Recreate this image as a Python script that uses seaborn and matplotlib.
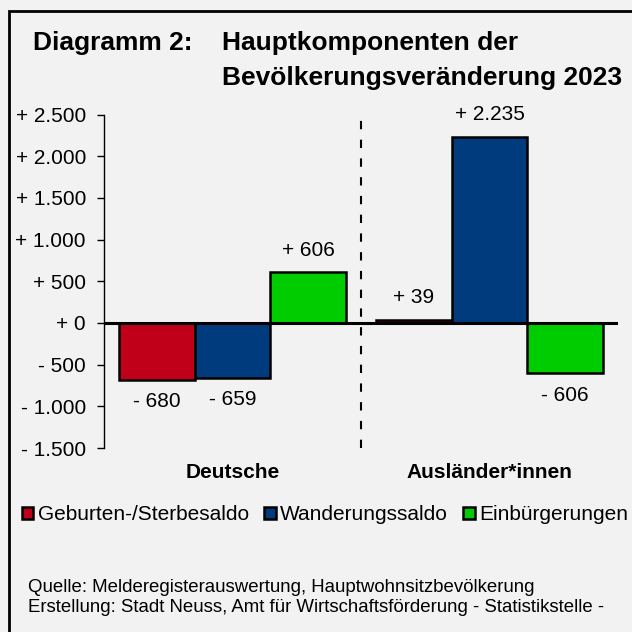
import pandas as pd
import matplotlib.pyplot as plt
import seaborn as sns
from matplotlib.patches import Rectangle

# Daten
gruppen = ["Deutsche", "Ausländer*innen"]
komponenten = ["Geburten-/Sterbesaldo", "Wanderungssaldo", "Einbürgerungen"]
deutsche = [-680, -659, 606]
auslaender = [39, 2235, -606]
farben = ["#C00018", "#003B7D", "#00CC00"]
y_ticks = [-1500, -1000, -500, 0, 500, 1000, 1500, 2000, 2500]

df = pd.DataFrame({
    "Gruppe": [gruppen[0]] * 3 + [gruppen[1]] * 3,
    "Komponente": komponenten * 2,
    "Wert": deutsche + auslaender,
})


def fmt(v):
    sign = "+" if v >= 0 else "-"
    return f"{sign} {abs(v):,.0f}".replace(",", ".")


sns.set_theme(style="white")
plt.rcParams["font.family"] = ["Liberation Sans", "DejaVu Sans"]
plt.rcParams["text.color"] = "black"
plt.rcParams["xtick.color"] = "black"
plt.rcParams["ytick.color"] = "black"
BG = "#F2F2F2"

W = H = 632
fig = plt.figure(figsize=(6.32, 6.32), dpi=100, facecolor=BG)
ax = fig.add_axes([104 / W, 1 - 448 / H, (618 - 104) / W, (448 - 114.5) / H])
ax.set_facecolor(BG)

sns.barplot(
    data=df, x="Gruppe", y="Wert", hue="Komponente",
    order=gruppen, hue_order=komponenten, palette=farben,
    width=0.883, gap=0, edgecolor="black", linewidth=1.8,
    ax=ax, saturation=1,
)

handles, labels = ax.get_legend_handles_labels()
ax.get_legend().remove()

for cont in ax.containers:
    ax.bar_label(cont, labels=[fmt(b.get_height()) for b in cont],
                 padding=9, fontsize=15, color="black")

ax.set_ylim(-1500, 2500)
ax.set_xlim(-0.5, 1.5)
ax.set_yticks(y_ticks)
ax.set_yticklabels([fmt(t) for t in y_ticks], fontsize=15)
ax.tick_params(axis="y", direction="out", length=5, width=1, color="black",
               labelcolor="black", pad=8, left=True)
ax.tick_params(axis="x", length=0, pad=11, labelcolor="black")
for lbl in ax.get_xticklabels():
    lbl.set_fontweight("bold")
    lbl.set_fontsize(15)
ax.set_xlabel("")
ax.set_ylabel("")

for s in ["top", "right", "bottom"]:
    ax.spines[s].set_visible(False)
ax.spines["left"].set_color("black")
ax.spines["left"].set_linewidth(1)

ax.axhline(0, color="black", lw=2.2, zorder=5)
ax.axvline(0.5, color="black", lw=1.5, linestyle=(0, (4, 5)))

# Titel
fig.text(33 / W, 1 - 50 / H, "Diagramm 2:", fontsize=19, fontweight="bold", va="baseline")
fig.text(222 / W, 1 - 50 / H, "Hauptkomponenten der", fontsize=19, fontweight="bold", va="baseline")
fig.text(222 / W, 1 - 85 / H, "Bevölkerungsveränderung 2023", fontsize=19, fontweight="bold", va="baseline")

fig.legend(handles, labels, loc="center", bbox_to_anchor=(325 / W, 1 - 515 / H),
           ncol=3, frameon=False, fontsize=15, handlelength=0.55, handleheight=0.55,
           handletextpad=0.2, columnspacing=0.75, borderpad=0, labelcolor="black")

fig.text(28 / W, 1 - 587 / H, "Quelle: Melderegisterauswertung, Hauptwohnsitzbevölkerung",
         fontsize=13.4, va="center")
fig.text(28 / W, 1 - 607 / H, "Erstellung: Stadt Neuss, Amt für Wirtschaftsförderung - Statistikstelle -",
         fontsize=13.4, va="center")

fig.patches.append(Rectangle((9 / W, -0.1), 2, 1.1 - 11 / H, transform=fig.transFigure,
                             fill=False, edgecolor="black", lw=2))

plt.savefig("out.png", dpi=100, facecolor=BG)
